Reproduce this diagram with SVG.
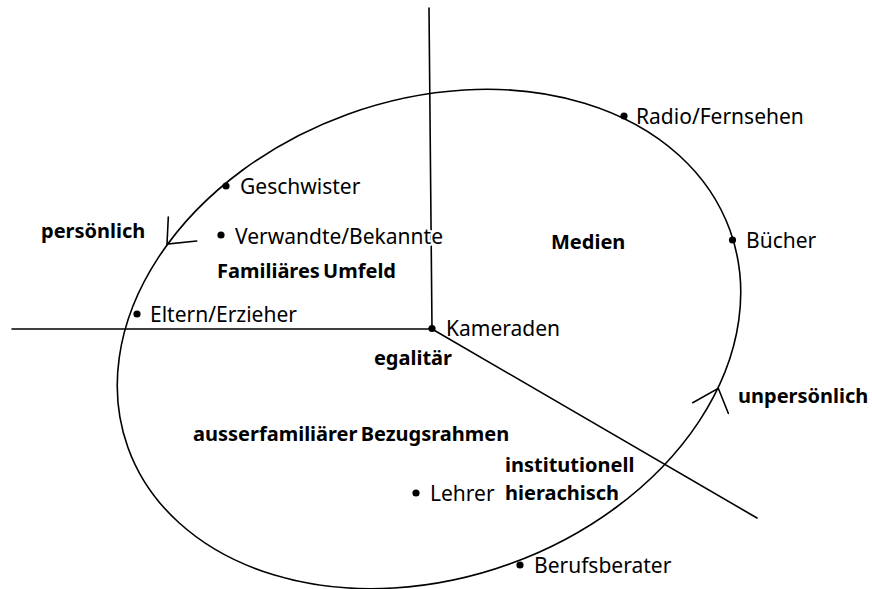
<svg xmlns="http://www.w3.org/2000/svg" width="872" height="589" viewBox="0 0 872 589">
  <style>
    .ln { fill: none; stroke: #000; stroke-width: 1.6; stroke-linecap: round; }
    .dot { fill: #000; }
    text { font-family: "Noto Sans", "Open Sans", sans-serif; fill: #000; }
    .lbl { font-size: 21px; }
    .hd { font-size: 20px; font-weight: bold; word-spacing: -2px; }
    .halo { paint-order: stroke; stroke: #fff; stroke-width: 4px; stroke-linejoin: round; }
  </style>

  <rect width="872" height="589" fill="#fff"/>

  <!-- axes, ring and direction marks -->
  <g id="connectors">
    <line class="ln" x1="429" y1="8" x2="432" y2="329"/>
    <line class="ln" x1="12" y1="329" x2="432" y2="329"/>
    <line class="ln" x1="432" y1="329" x2="757" y2="518"/>
    <ellipse class="ln" cx="429" cy="339" rx="320" ry="239" transform="rotate(-19.85 429 339)"/>
    <polyline class="ln" points="168.3,217 167,244 196.7,241"/>
    <polyline class="ln" points="692.7,402.7 718.3,388.3 728.3,413.3"/>
  </g>

  <!-- centre point -->
  <g id="kameraden">
    <circle class="dot" cx="432" cy="328.5" r="3.6"/>
    <text class="lbl" x="446" y="336">Kameraden</text>
  </g>

  <g id="radio">
    <circle class="dot" cx="624" cy="116" r="3.6"/>
    <text class="lbl" x="636" y="124">Radio/Fernsehen</text>
  </g>
  <g id="buecher">
    <circle class="dot" cx="732.5" cy="240" r="3.6"/>
    <text class="lbl" x="746" y="248">Bücher</text>
  </g>
  <g id="geschwister">
    <circle class="dot" cx="226" cy="186" r="3.6"/>
    <text class="lbl" x="240" y="194">Geschwister</text>
  </g>
  <g id="verwandte">
    <circle class="dot" cx="221" cy="235" r="3.6"/>
    <text class="lbl halo" x="235" y="244">Verwandte/Bekannte</text>
  </g>
  <g id="eltern">
    <circle class="dot" cx="137" cy="314" r="3.6"/>
    <text class="lbl" x="150" y="322">Eltern/Erzieher</text>
  </g>
  <g id="lehrer">
    <circle class="dot" cx="416" cy="493" r="3.6"/>
    <text class="lbl" x="430" y="501">Lehrer</text>
  </g>
  <g id="berufsberater">
    <circle class="dot" cx="520" cy="565" r="3.6"/>
    <text class="lbl" x="534" y="573">Berufsberater</text>
  </g>

  <!-- area and axis captions -->
  <g id="persoenlich"><text class="hd" x="41" y="238">persönlich</text></g>
  <g id="unpersoenlich"><text class="hd" x="738" y="403">unpersönlich</text></g>
  <g id="familiaeres-umfeld"><text class="hd halo" x="217" y="278">Familiäres Umfeld</text></g>
  <g id="medien"><text class="hd" x="551" y="249">Medien</text></g>
  <g id="egalitaer"><text class="hd" x="452" y="365" text-anchor="end">egalitär</text></g>
  <g id="ausserfamiliaer"><text class="hd" x="193" y="441">ausserfamiliärer Bezugsrahmen</text></g>
  <g id="institutionell">
    <text class="hd halo" x="505" y="472">institutionell</text>
    <text class="hd halo" x="505" y="500">hierachisch</text>
  </g>
</svg>
